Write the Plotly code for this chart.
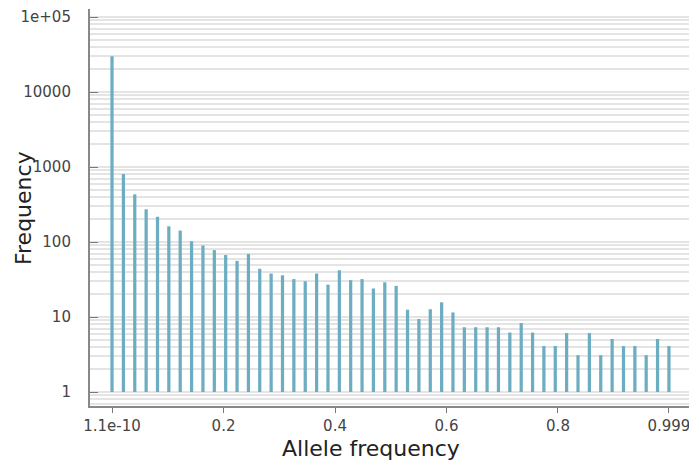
import plotly.graph_objects as go

allele_freq = [0, 0.0204, 0.0408, 0.0612, 0.0816, 0.1019, 0.1223, 0.1427, 0.1631, 0.1835,
               0.2039, 0.2243, 0.2447, 0.2650, 0.2854, 0.3058, 0.3262, 0.3466, 0.3670, 0.3874,
               0.4078, 0.4281, 0.4485, 0.4689, 0.4893, 0.5097, 0.5301, 0.5505, 0.5709, 0.5913,
               0.6116, 0.6320, 0.6524, 0.6728, 0.6932, 0.7136, 0.7340, 0.7544, 0.7747, 0.7951,
               0.8155, 0.8359, 0.8563, 0.8767, 0.8971, 0.9175, 0.9379, 0.9582, 0.9786, 0.9990]
counts = [30000, 807, 432, 273, 218, 162, 142, 102, 90, 78,
          67, 56, 69, 44, 38, 36, 32, 30, 38, 27,
          42, 31, 32, 24, 29, 26, 12.5, 9.4, 12.7, 15.7,
          11.5, 7.3, 7.3, 7.3, 7.3, 6.2, 8.3, 6.2, 4.1, 4.1,
          6.1, 3.1, 6.1, 3.1, 5.1, 4.1, 4.1, 3.1, 5.1, 4.1]

x_tickvals = [0, 0.2, 0.4, 0.6, 0.8, 0.999]
x_ticktext = ["1.1e-10", "0.2", "0.4", "0.6", "0.8", "0.999"]
y_tickvals = [1, 10, 100, 1000, 10000, 100000]
y_ticktext = ["1", "10", "100", "1000", "10000", "1e+05"]

pad = "\u00a0" * 3
base_val = 1
fig = go.Figure()
fig.add_trace(go.Bar(
    x=allele_freq,
    y=[c - base_val for c in counts],
    base=[base_val] * len(counts),
    width=0.0058,
    marker=dict(color="#6cadc2", line=dict(width=0)),
    hoverinfo="skip",
))

font = "DejaVu Sans"
fig.update_layout(
    width=689, height=463,
    margin=dict(l=90, r=0, t=9, b=57),
    paper_bgcolor="white", plot_bgcolor="white",
    showlegend=False,
    font=dict(family=font, size=15, color="#444444"),
    xaxis=dict(
        range=[-0.0395, 1.035],
        tickvals=x_tickvals, ticktext=x_ticktext,
        ticks="outside", ticklen=5, tickcolor="#777777", tickwidth=1,
        showline=True, linecolor="#888888", linewidth=1.5,
        showgrid=False, zeroline=False,
        ticklabeloverflow="allow",
        tickfont=dict(family=font, size=15, color="#444444"),
    ),
    yaxis=dict(
        type="log",
        range=[-0.1867, 5.107],
        tickvals=y_tickvals, ticktext=[t + pad for t in y_ticktext],
        ticks="inside", ticklen=8, tickcolor="#777777", tickwidth=1,
        showline=True, linecolor="#888888", linewidth=1.5,
        showgrid=True, gridcolor="#e4e4e4", gridwidth=1.5,
        zeroline=False,
        ticklabeloverflow="allow",
        tickfont=dict(family=font, size=15, color="#444444"),
        minor=dict(dtick="D1", showgrid=True, gridcolor="#e4e4e4", gridwidth=1.5, ticks=""),
    ),
    annotations=[
        dict(text="Allele frequency", xref="paper", yref="paper",
             x=0.469, y=-0.108, xanchor="center", yanchor="middle",
             showarrow=False, font=dict(family=font, size=22, color="#222222")),
        dict(text="Frequency", xref="paper", yref="paper",
             x=-0.110, y=0.499, xanchor="center", yanchor="middle", textangle=-90,
             showarrow=False, font=dict(family=font, size=22, color="#222222")),
    ],
)

fig.write_html("out.html", config={"displayModeBar": False},
               post_script="document.body.style.margin='0px';document.body.style.overflow='hidden';")
